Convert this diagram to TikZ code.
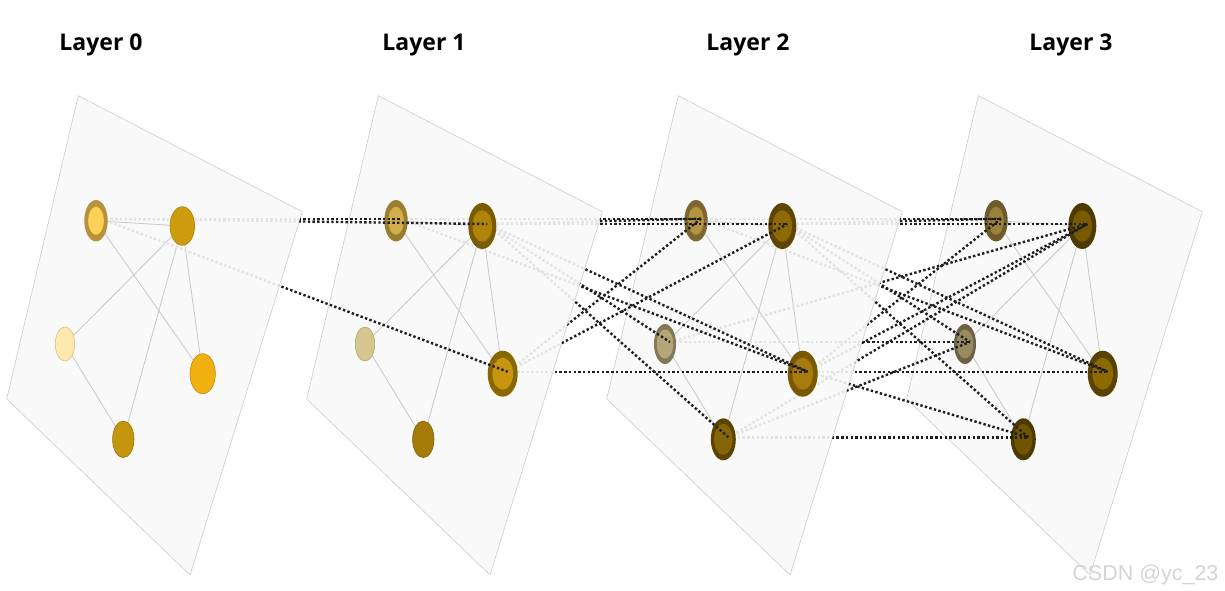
\documentclass[tikz,border=0pt]{standalone}
\usepackage{fontspec}
\newfontfamily\ttlfont{Open Sans}
\newfontfamily\wmfont{Liberation Sans}
\usetikzlibrary{shapes.geometric}
\pgfdeclarelayer{bg}
\pgfdeclarelayer{mid}
\pgfdeclarelayer{top}
\pgfsetlayers{bg,mid,main,top}
\definecolor{planefill}{HTML}{F9F9F9}
\definecolor{planeedge}{HTML}{CCCCCC}
\definecolor{intraedge}{HTML}{C8C8C8}
\definecolor{linklight}{HTML}{E3E3E3}
\definecolor{linkdark}{HTML}{1E1E1E}
\newcommand\planepath[1]{(78.3+#1,95.7) -- (302.3+#1,211.7) -- (190+#1,575) -- (6.7+#1,399) -- cycle}
\newcommand\rightregion[1]{(78.3+#1,-20) -- (78.3+#1,95.7) -- (302.3+#1,211.7) -- (190+#1,575) -- (190+#1,620) -- (1300,620) -- (1300,-20) -- cycle}
% plain vertex: name, x, y, border colour, fill colour, width, height
\newcommand\mkvtx[7]{%
  \definecolor{o#1}{HTML}{#4}\definecolor{i#1}{HTML}{#5}%
  \node[vert, draw=o#1, fill=i#1, line width=0.6pt, minimum width=#6, minimum height=#7] (#1) at (#2,#3) {};
  \coordinate (p#1) at ([shift={(5,-2)}]#1.center);}
% ringed vertex: name, x, y, ring colour, core colour, outer w, outer h, core rx, core ry
\newcommand\mkring[9]{%
  \definecolor{o#1}{HTML}{#4}\definecolor{i#1}{HTML}{#5}%
  \node[vert, fill=o#1, minimum width=#6, minimum height=#7] (#1) at (#2,#3) {};
  \fill[i#1] (#1.center) ellipse [x radius=#8, y radius=#9];
  \coordinate (p#1) at ([shift={(5,-2)}]#1.center);}
\begin{document}
\begin{tikzpicture}[x=1pt, y=-1pt,
  plane/.style={fill=planefill, draw=planeedge, line width=0.6pt},
  intra/.style={draw=intraedge, line width=0.8pt},
  lightlink/.style={draw=linklight, line width=2.4pt, dash pattern=on 2.4pt off 2.3pt},
  darklink/.style={draw=linkdark, line width=2.4pt, dash pattern=on 2.4pt off 2.3pt},
  vert/.style={ellipse, inner sep=0pt, outer sep=0pt},
  ttl/.style={font=\ttlfont\bfseries\fontsize{23}{26}\selectfont, anchor=base}]
\useasboundingbox (0,0) rectangle (1225,590);

% titles
\node[ttl] (t0) at (101,50) {Layer 0};
\node[ttl] (t1) at (424,50) {Layer 1};
\node[ttl] (t2) at (748,50) {Layer 2};
\node[ttl] (t3) at (1071,50) {Layer 3};

% planes
\begin{pgfonlayer}{bg}
\foreach \o in {0,300,600,900} { \draw[plane] \planepath{\o}; }
\end{pgfonlayer}

% layer 0
\mkring{A0}{96}{220.7}{B8923A}{FDD058}{23.4pt}{41.4pt}{7.8}{14}
\mkvtx{B0}{182.3}{226}{A67E00}{CC9C0E}{24.6pt}{38.6pt}
\mkvtx{C0}{65}{344}{D8C080}{FDE8B0}{19.4pt}{34pt}
\mkvtx{D0}{202.7}{373.7}{C08A00}{EFB010}{25.4pt}{40pt}
\mkvtx{E0}{123.3}{439.3}{9A7400}{C4960C}{21.4pt}{36.6pt}
% layer 1
\mkring{A1}{396}{220.7}{9C7D30}{D2AE48}{23.4pt}{41.4pt}{7.8}{14}
\mkring{B1}{482.3}{226}{7A5C00}{B08406}{28pt}{46pt}{9.7}{15.8}
\mkvtx{C1}{365}{344}{B0A070}{D6C68E}{19.4pt}{34pt}
\mkring{D1}{502.7}{373.7}{8A6800}{C8960E}{30pt}{46pt}{10.3}{16}
\mkvtx{E1}{423.3}{439.3}{80600A}{A67C08}{21.4pt}{36.6pt}
% layer 2
\mkring{A2}{696}{220.7}{7E6630}{B39440}{23.4pt}{41.4pt}{7.8}{14}
\mkring{B2}{782.3}{226}{5E4600}{8E6A06}{28pt}{46pt}{9.7}{15.8}
\mkring{C2}{665}{344}{847858}{B5A67A}{22pt}{40pt}{8.3}{14.5}
\mkring{D2}{802.7}{373.7}{7A5800}{A87C0C}{30pt}{46pt}{10.3}{16}
\mkring{E2}{723.3}{439.3}{5C4400}{866408}{25pt}{42pt}{9.2}{15.5}
% layer 3
\mkring{A3}{996}{220.7}{6E5A2A}{9A803A}{23.4pt}{41.4pt}{7.8}{14}
\mkring{B3}{1082.3}{226}{4E3A00}{7A5A00}{28pt}{46pt}{9.7}{15.8}
\mkring{C3}{965}{344}{6C6246}{9A8A62}{22pt}{40pt}{8.3}{14.5}
\mkring{D3}{1102.7}{373.7}{5A4200}{8C6A00}{30pt}{46pt}{10.3}{16}
\mkring{E3}{1023.3}{439.3}{4C3800}{705400}{25pt}{42pt}{9.2}{15.5}

% intra-layer edges
\begin{pgfonlayer}{mid}
\foreach \l in {0,1,2,3} {
  \foreach \a/\b in {A/B, A/D, B/C, B/E, B/D, C/E} {
    \draw[intra] (\a\l.center) -- (\b\l.center);
  }
}
\end{pgfonlayer}

% inter-layer links: light part inside the source plane
\begin{pgfonlayer}{mid}
\begin{scope}
  \clip \planepath{0};
  \foreach \s/\t in {A0/A1, A0/B1, A0/D1} { \draw[lightlink] (p\s) -- (p\t); }
\end{scope}
\begin{scope}
  \clip \planepath{300};
  \foreach \s/\t in {A1/A2, B1/A2, B1/B2, A1/D2, B1/D2, B1/C2, B1/E2, D1/A2, D1/B2, D1/D2} { \draw[lightlink] (p\s) -- (p\t); }
\end{scope}
\begin{scope}
  \clip \planepath{600};
  \foreach \s/\t in {A2/A3, B2/A3, B2/B3, B2/C3, B2/D3, B2/E3, A2/D3, D2/A3, D2/B3, D2/D3, D2/E3, C2/B3, C2/C3, E2/B3, E2/C3, E2/E3} { \draw[lightlink] (p\s) -- (p\t); }
\end{scope}
\end{pgfonlayer}

% inter-layer links: dark part outside the source plane
\begin{pgfonlayer}{top}
\begin{scope}
  \clip \rightregion{0};
  \foreach \s/\t in {A0/A1, A0/B1, A0/D1} { \draw[darklink] (p\s) -- (p\t); }
\end{scope}
\begin{scope}
  \clip \rightregion{300};
  \foreach \s/\t in {A1/A2, B1/A2, B1/B2, A1/D2, B1/D2, B1/C2, B1/E2, D1/A2, D1/B2, D1/D2} { \draw[darklink] (p\s) -- (p\t); }
\end{scope}
\begin{scope}
  \clip \rightregion{600};
  \foreach \s/\t in {A2/A3, B2/A3, B2/B3, B2/C3, B2/D3, B2/E3, A2/D3, D2/A3, D2/B3, D2/D3, D2/E3, C2/B3, C2/C3, E2/B3, E2/C3, E2/E3} { \draw[darklink] (p\s) -- (p\t); }
\end{scope}
\end{pgfonlayer}

% watermark
\node[font=\wmfont\fontsize{21.5}{24}\selectfont, text=black!17, anchor=base east] (wm) at (1222,580) {CSDN @yc\_23};
\end{tikzpicture}
\end{document}
